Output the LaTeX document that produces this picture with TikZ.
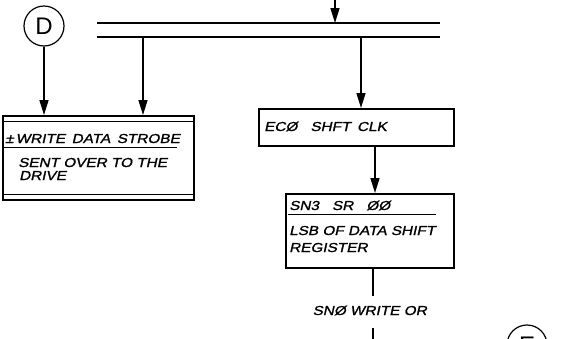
\documentclass[tikz,border=0pt]{standalone}
\usepackage{fontspec}
\setmainfont{Liberation Sans}
\newfontfamily\handfont[FakeStretch=1.18,FakeSlant=0.22,FakeBold=1.2]{Liberation Sans}
\newcommand{\hw}{\handfont\fontsize{13}{15}\selectfont}
\usetikzlibrary{positioning,arrows.meta}
\tikzset{
  blk/.style={draw, line width=1.5pt, inner sep=0pt, anchor=north west},
  txt/.style={anchor=base west, inner sep=0pt, font=\hw},
  conn/.style={draw, circle, line width=1.2pt, inner sep=0pt, minimum size=40pt, font=\fontsize{24}{24}\selectfont},
  arrow/.style={-{Triangle[length=15pt, width=9pt]}, line width=1.5pt},
  wire/.style={line width=1.5pt},
  bus/.style={line width=1.7pt},
  rule/.style={line width=1pt}
}

\begin{document}
\begin{tikzpicture}[x=1pt, y=-1pt]
    \useasboundingbox (0,0) rectangle (588,338);
    \clip (0,0) rectangle (588,338);
    % off-page connectors
    \node[conn] (dcirc) at (44,26) {D};
    \node[conn] (ecirc) at (527,345) {E};
    % bus
    \coordinate (busA1) at (97,23);
    \coordinate (busA2) at (440,23);
    \coordinate (busB1) at (97,37);
    \coordinate (busB2) at (440,37);
    \draw[bus] (busA1) -- (busA2);
    \draw[bus] (busB1) -- (busB2);
    \coordinate (topin) at (335,-4);
    \coordinate (tapL) at (143,37);
    \coordinate (tapR) at (361,37);
    % boxes
    \node[blk, minimum width=191pt, minimum height=84pt] (lbox) at (2,115) {};
    \node[blk, minimum width=195pt, minimum height=37pt] (ecbox) at (258,108) {};
    \node[blk, minimum width=168pt, minimum height=74pt] (snbox) at (285,193) {};
    \draw[rule] ([yshift=-6pt]lbox.north west) -- ([yshift=-6pt]lbox.north east);
    \draw[rule] ([yshift=6pt]lbox.south west) -- ([yshift=6pt]lbox.south east);
    % texts
    \node[txt] (wds) at (5,143) {±\,WRITE\enspace DATA\enspace STROBE};
    \draw[rule] (4,147) -- (177,147);
    \node[txt] (sent) at (18,167) {SENT OVER TO THE};
    \node[txt] (drive) at (19,180) {DRIVE};
    \node[txt] (eclk) at (264,131) {ECØ\quad SHFT\enspace CLK};
    \node[txt] (sn3) at (289,210) {SN3\quad SR\quad ØØ};
    \draw[rule] (288,214) -- (436,214);
    \node[txt] (lsb) at (289,235) {LSB OF DATA SHIFT};
    \node[txt] (reg) at (289,252) {REGISTER};
    \node[txt, anchor=base east] (snlbl) at (427,315) {SNØ WRITE OR};
    % connectors
    \draw[arrow] (topin) -- (topin |- busA1);
    \draw[arrow] (dcirc.south) -- (dcirc.south |- lbox.north);
    \draw[arrow] (tapL) -- (tapL |- lbox.north);
    \draw[arrow] (tapR) -- (tapR |- ecbox.north);
    \coordinate (ecout) at (375,145);
    \draw[arrow] (ecbox.south -| ecout) -- (snbox.north -| ecout);
    \coordinate (wbrk1) at (373,296);
    \coordinate (wbrk2) at (373,328);
    \coordinate (wend) at (373,345);
    \draw[wire] (snbox.south -| wbrk1) -- (wbrk1);
    \draw[wire] (wbrk2) -- (wend);
\end{tikzpicture}
\end{document}
